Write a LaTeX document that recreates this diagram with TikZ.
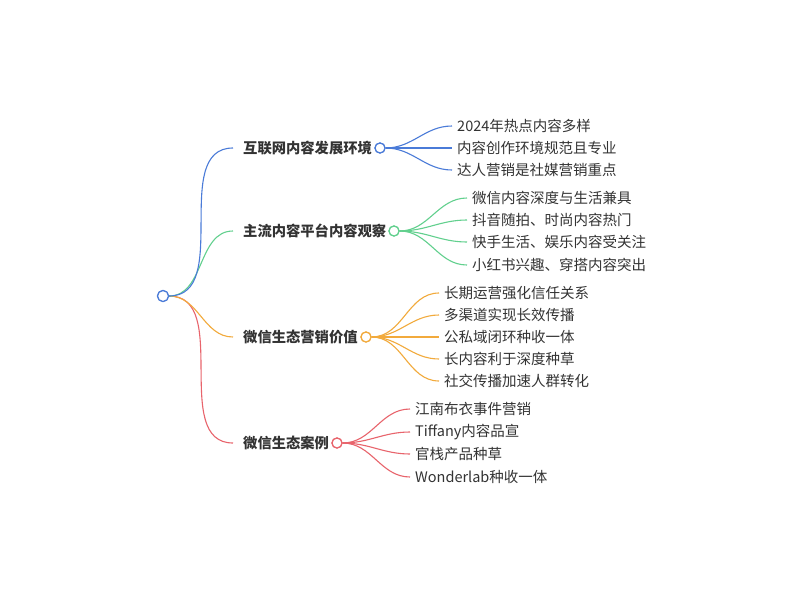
\documentclass[tikz,border=0pt]{standalone}
\usepackage{fontspec}
\setmainfont{Noto Sans CJK SC}
\begin{document}
\begin{tikzpicture}[x=1pt,y=-1pt]
\useasboundingbox[fill=white] (0,0) rectangle (801,600);
\definecolor{cb}{HTML}{4A7BD8}
\definecolor{cg}{HTML}{62D08E}
\definecolor{co}{HTML}{F2AA3C}
\definecolor{cr}{HTML}{E8646C}
\definecolor{tx}{HTML}{333333}
\tikzset{lf/.style={anchor=west,inner sep=0pt,text=tx,font=\fontsize{14.5}{16}\selectfont},
 br/.style={anchor=west,inner sep=0pt,text=tx,font=\fontsize{14.3}{16}\selectfont\bfseries},
 dot/.style={circle,line width=1.2pt,fill=white,minimum size=10pt,inner sep=0pt},
 ln/.style={line width=1.1pt},
 cv/.style={out=0,in=180}}
% root
\node[dot,draw=cb,minimum size=11pt] (r) at (163,296) {};
% branch nodes
\node[br] (b1) at (243,148) {互联网内容发展环境};
\node[br] (b2) at (243,231) {主流内容平台内容观察};
\node[br] (b3) at (243,337) {微信生态营销价值};
\node[br] (b4) at (243,443) {微信生态案例};
\coordinate (e1) at (233,148);\coordinate (e2) at (233,231);
\coordinate (e3) at (233,337);\coordinate (e4) at (233,443);
\draw[ln,cr] (r.east) to[cv] (e4);
\draw[ln,co] (r.east) to[cv] (e3);
\draw[ln,cg] (r.east) to[cv] (e2);
\draw[ln,cb] (r.east) to[cv] (e1);
\node[dot,draw=cb,minimum size=11pt] at (r) {};
% leaves 1
\node[lf] (l11) at (457,126) {2024年热点内容多样};
\node[lf] (l12) at (457,148) {内容创作环境规范且专业};
\node[lf] (l13) at (457,170) {达人营销是社媒营销重点};
% leaves 2
\node[lf] (l21) at (472,198) {微信内容深度与生活兼具};
\node[lf] (l22) at (472,220) {抖音随拍、时尚内容热门};
\node[lf] (l23) at (472,242) {快手生活、娱乐内容受关注};
\node[lf] (l24) at (472,265) {小红书兴趣、穿搭内容突出};
% leaves 3
\node[lf] (l31) at (444,293) {长期运营强化信任关系};
\node[lf] (l32) at (444,315) {多渠道实现长效传播};
\node[lf] (l33) at (444,337) {公私域闭环种收一体};
\node[lf] (l34) at (444,359) {长内容利于深度种草};
\node[lf] (l35) at (444,381) {社交传播加速人群转化};
% leaves 4
\node[lf] (l41) at (415,409) {江南布衣事件营销};
\node[lf] (l42) at (415,432) {Tiffany内容品宣};
\node[lf] (l43) at (415,454) {官栈产品种草};
\node[lf] (l44) at (415,477) {Wonderlab种收一体};
% dots
\node[dot,draw=cb] (d1) at (380,148) {};
\node[dot,draw=cg] (d2) at (394,231) {};
\node[dot,draw=co] (d3) at (366,337) {};
\node[dot,draw=cr] (d4) at (337,443) {};
\foreach \l in {l11,l12,l13} \draw[ln,cb] (d1.east) to[cv] ([xshift=-5pt]\l.west);
\foreach \l in {l21,l22,l23,l24} \draw[ln,cg] (d2.east) to[cv] ([xshift=-5pt]\l.west);
\foreach \l in {l31,l32,l33,l34,l35} \draw[ln,co] (d3.east) to[cv] ([xshift=-5pt]\l.west);
\foreach \l in {l41,l42,l43,l44} \draw[ln,cr] (d4.east) to[cv] ([xshift=-5pt]\l.west);
\node[dot,draw=cb] at (d1) {};\node[dot,draw=cg] at (d2) {};\node[dot,draw=co] at (d3) {};\node[dot,draw=cr] at (d4) {};
\end{tikzpicture}
\end{document}
